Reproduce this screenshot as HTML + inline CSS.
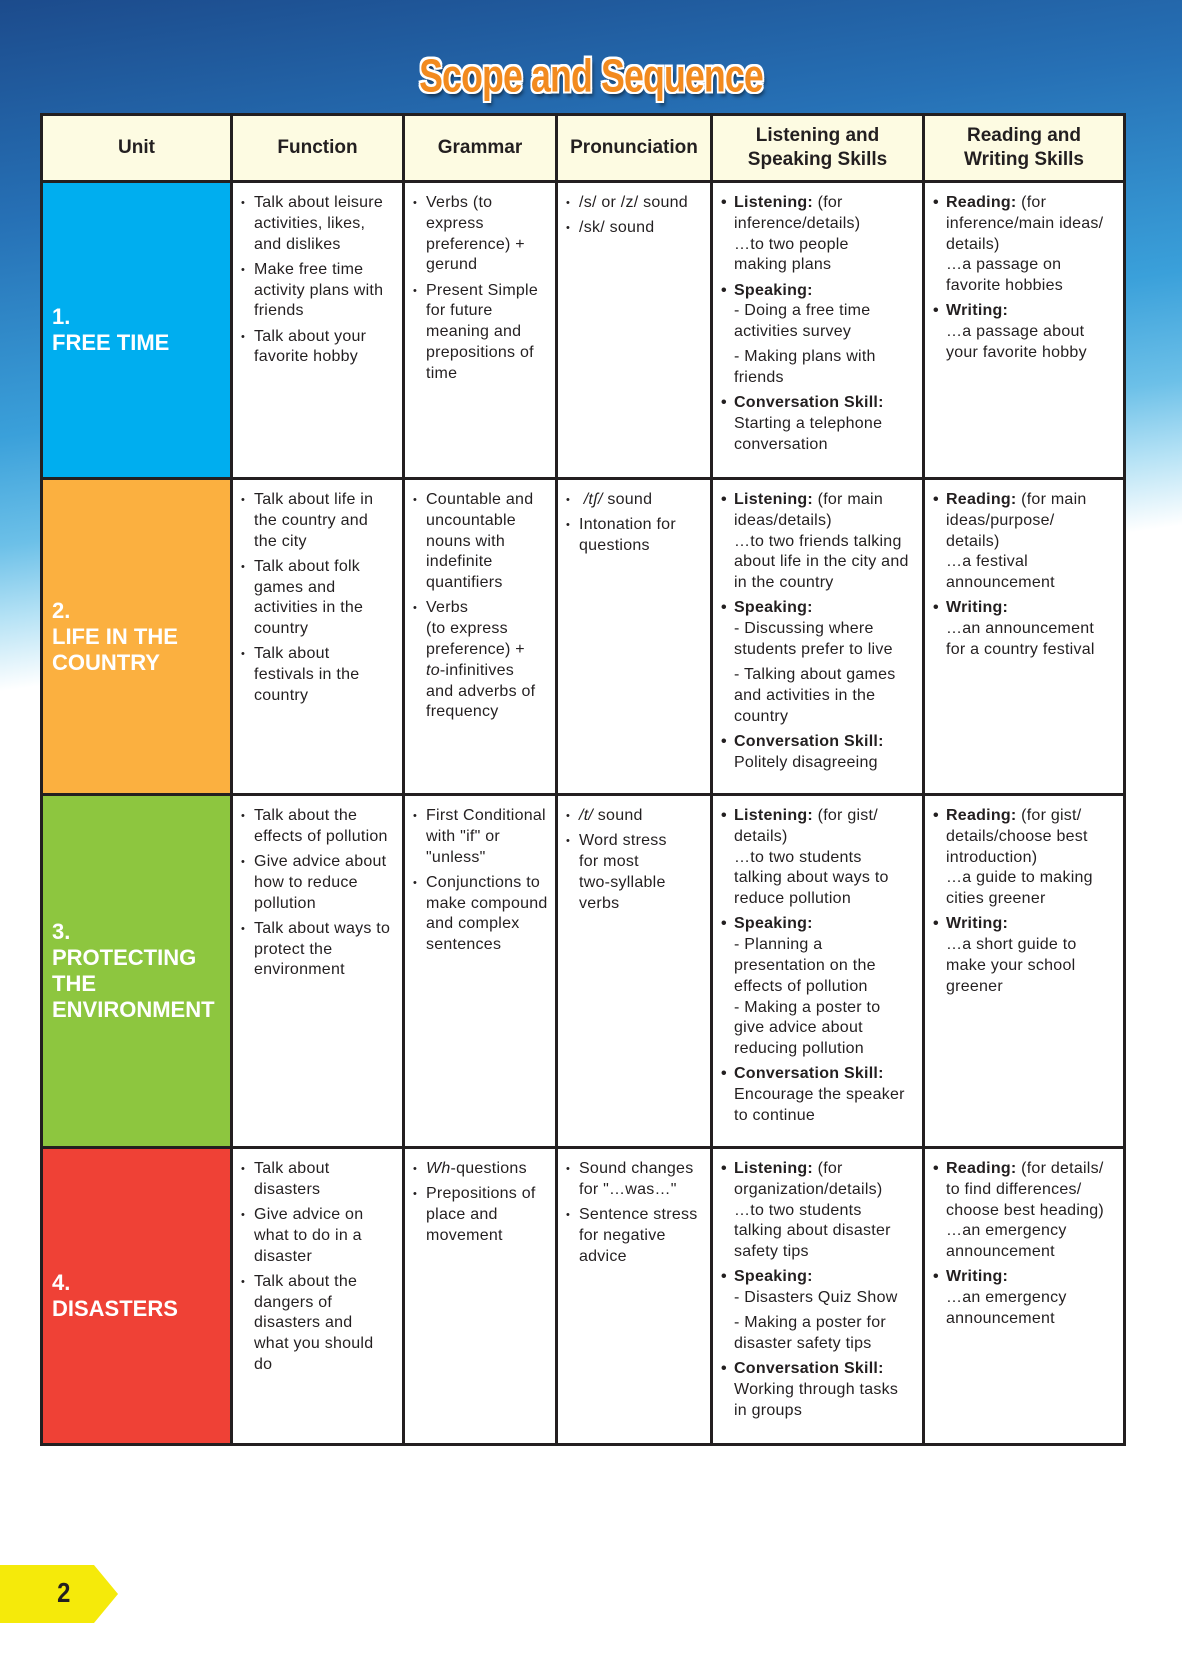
<!DOCTYPE html>
<html><head><meta charset="utf-8">
<style>
*{margin:0;padding:0;box-sizing:border-box}
html,body{width:1182px;height:1654px;overflow:hidden}
body{position:relative;font-family:"Liberation Sans",Arial,sans-serif;color:#231f20;
background:linear-gradient(172deg,#1c4b8c 0%,#2670b5 12%,#3aa0da 24%,#6cc0e8 30%,#b5e2f5 34%,#fff 38%,#fff 100%);}
.title{position:absolute;top:52px;left:0;width:1182px;text-align:center;font-family:"Liberation Sans Narrow","Liberation Sans",sans-serif;font-weight:bold;font-size:42px;color:#f28a1e;letter-spacing:-1px;
text-shadow:2px 0 #fff,-2px 0 #fff,0 2px #fff,0 -2px #fff,2px 2px #fff,-2px -2px #fff,2px -2px #fff,-2px 2px #fff,3px 4px 4px rgba(0,0,0,.5);transform:scaleX(.85) scaleY(1.1)}
table{position:absolute;left:40px;top:113px;width:1083px;border-collapse:collapse;table-layout:fixed;background:#fff}
td,th{border:3px solid #231f20;vertical-align:top;font-size:16px;line-height:20.8px}
th{background:#fdfbe2;font-size:19px;line-height:24px;font-weight:bold;text-align:center;vertical-align:middle;height:67px}
td.u{color:#fff;font-weight:bold;font-size:22px;line-height:26px;vertical-align:middle;padding-left:9px}
td.c{padding:10px 12px 0 8px;letter-spacing:.25px}
.i{position:relative;padding-left:13px;margin-bottom:4.4px}
.i:before{content:"•";position:absolute;left:0;top:0;font-size:11px}
.n{padding-left:13px;margin-bottom:4.4px}
.b:before{font-size:16px;font-weight:bold}
.tab{position:absolute;left:0;top:1565px;width:118px;height:58px;background:#f5ea0a;clip-path:polygon(0 0,94px 0,118px 29px,94px 58px,0 58px)}
.tab span{position:absolute;left:56px;top:12px;font-weight:bold;font-size:28px;transform:scaleX(.85)}
</style></head><body>
<div class="title">Scope and Sequence</div>
<table>
<colgroup><col style="width:190px"><col style="width:172px"><col style="width:153px"><col style="width:155px"><col style="width:212px"><col style="width:201px"></colgroup>
<tr><th>Unit</th><th>Function</th><th>Grammar</th><th>Pronunciation</th><th>Listening and<br>Speaking Skills</th><th>Reading and<br>Writing Skills</th></tr>
<tr style="height:297px"><td class="u" style="background:#00aeef">1.<br>FREE TIME</td>
<td class="c"><div class="i">Talk about leisure activities, likes, and dislikes</div><div class="i">Make free time activity plans with friends</div><div class="i">Talk about your favorite hobby</div></td>
<td class="c"><div class="i">Verbs (to<br>express preference) + gerund</div><div class="i">Present Simple for future meaning and prepositions of time</div></td>
<td class="c"><div class="i">/s/ or /z/ sound</div><div class="i">/sk/ sound</div></td>
<td class="c" style="padding-right:22px"><div class="i b"><b>Listening:</b> (for inference/details)<br>…to two people making plans</div><div class="i b"><b>Speaking:</b><br>- Doing a free time activities survey</div><div class="n">- Making plans with friends</div><div class="i b"><b>Conversation Skill:</b> Starting a telephone conversation</div></td>
<td class="c"><div class="i b"><b>Reading:</b> (for inference/main ideas/ details)<br>…a passage on favorite hobbies</div><div class="i b"><b>Writing:</b><br>…a passage about your favorite hobby</div></td></tr>
<tr style="height:316px"><td class="u" style="background:#fbb040">2.<br>LIFE IN THE<br>COUNTRY</td>
<td class="c"><div class="i">Talk about life in the country and the city</div><div class="i">Talk about folk games and activities in the country</div><div class="i">Talk about festivals in the country</div></td>
<td class="c"><div class="i">Countable and uncountable nouns with indefinite quantifiers</div><div class="i">Verbs<br>(to express preference) + <i>to</i>-infinitives and adverbs of frequency</div></td>
<td class="c"><div class="i">&nbsp;<i>/tʃ/</i> sound</div><div class="i">Intonation for questions</div></td>
<td class="c"><div class="i b"><b>Listening:</b> (for main ideas/details)<br>…to two friends talking about life in the city and in the country</div><div class="i b"><b>Speaking:</b><br>- Discussing where students prefer to live</div><div class="n">- Talking about games and activities in the country</div><div class="i b"><b>Conversation Skill:</b> Politely disagreeing</div></td>
<td class="c"><div class="i b"><b>Reading:</b> (for main ideas/purpose/ details)<br>…a festival announcement</div><div class="i b"><b>Writing:</b><br>…an announcement for a country festival</div></td></tr>
<tr style="height:353px"><td class="u" style="background:#8dc63f">3.<br>PROTECTING<br>THE<br>ENVIRONMENT</td>
<td class="c" style="padding-right:6px"><div class="i">Talk about the effects of pollution</div><div class="i">Give advice about how to reduce pollution</div><div class="i">Talk about ways to protect the environment</div></td>
<td class="c" style="padding-right:4px"><div class="i">First Conditional with "if" or "unless"</div><div class="i">Conjunctions to make compound and complex sentences</div></td>
<td class="c"><div class="i"><i>/t/</i> sound</div><div class="i">Word stress<br>for most<br>two-syllable<br>verbs</div></td>
<td class="c"><div class="i b"><b>Listening:</b> (for gist/ details)<br>…to two students talking about ways to reduce pollution</div><div class="i b"><b>Speaking:</b><br>- Planning a presentation on the effects of pollution<br>- Making a poster to give advice about reducing pollution</div><div class="i b"><b>Conversation Skill:</b> Encourage the speaker to continue</div></td>
<td class="c"><div class="i b"><b>Reading:</b> (for gist/ details/choose best introduction)<br>…a guide to making cities greener</div><div class="i b"><b>Writing:</b><br>…a short guide to make your school greener</div></td></tr>
<tr style="height:297px"><td class="u" style="background:#ef4136">4.<br>DISASTERS</td>
<td class="c"><div class="i">Talk about disasters</div><div class="i">Give advice on what to do in a disaster</div><div class="i">Talk about the dangers of disasters and what you should do</div></td>
<td class="c"><div class="i"><i>Wh</i>-questions</div><div class="i">Prepositions of place and movement</div></td>
<td class="c" style="padding-right:4px"><div class="i">Sound changes for "…was…"</div><div class="i">Sentence stress for negative advice</div></td>
<td class="c"><div class="i b"><b>Listening:</b> (for organization/details)<br>…to two students talking about disaster safety tips</div><div class="i b"><b>Speaking:</b><br>- Disasters Quiz Show</div><div class="n">- Making a poster for disaster safety tips</div><div class="i b"><b>Conversation Skill:</b> Working through tasks in groups</div></td>
<td class="c" style="padding-right:6px"><div class="i b"><b>Reading:</b> (for details/ to find differences/ choose best heading)<br>…an emergency announcement</div><div class="i b"><b>Writing:</b><br>…an emergency announcement</div></td></tr>
</table>
<div class="tab"><span>2</span></div>
</body></html>
